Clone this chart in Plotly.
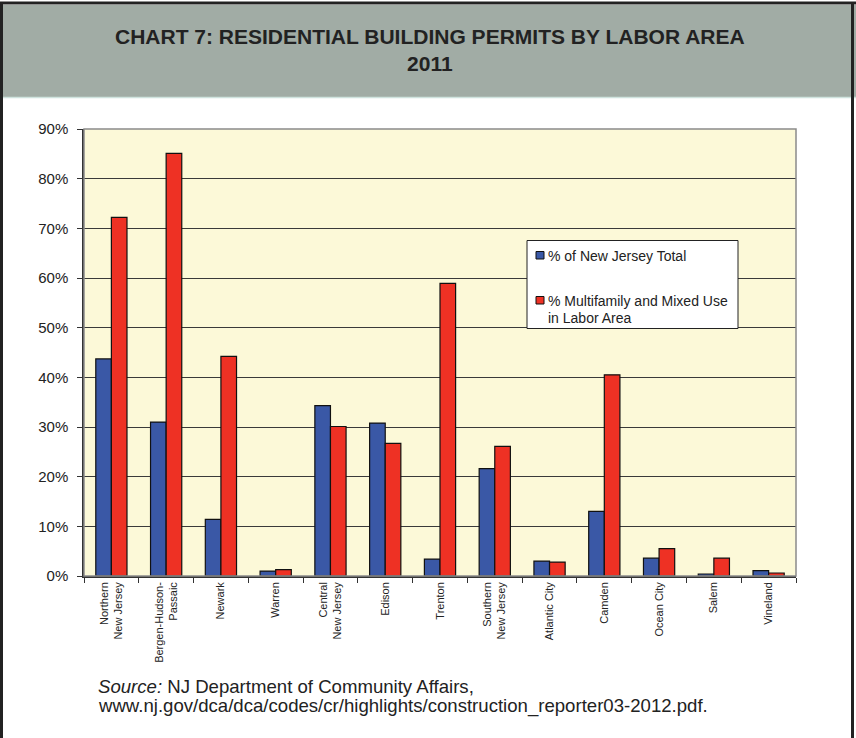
import plotly.graph_objects as go

categories = ["Northern<br>New Jersey", "Bergen-Hudson-<br>Passaic", "Newark", "Warren",
              "Central<br>New Jersey", "Edison", "Trenton", "Southern<br>New Jersey",
              "Atlantic City", "Camden", "Ocean City", "Salem", "Vineland"]
pct_nj_total = [43.7, 31.0, 11.4, 1.0, 34.3, 30.8, 3.4, 21.6, 3.0, 13.0, 3.6, 0.4, 1.1]
pct_multifamily = [72.2, 85.1, 44.2, 1.3, 30.1, 26.7, 58.9, 26.1, 2.8, 40.5, 5.5, 3.6, 0.6]
series_names = ["% of New Jersey Total", "% Multifamily and Mixed Use", "in Labor Area"]
series_colors = ["#3a58a6", "#ee3124"]
y_ticks = [0, 10, 20, 30, 40, 50, 60, 70, 80, 90]

W, H = 856, 738
L, R, T, B = 84, 796, 129, 576


def px(x):
    return (x - L) / (R - L)


def py(y):
    return (B - y) / (B - T)


fig = go.Figure()
fig.add_trace(go.Bar(x=categories, y=pct_nj_total, name=series_names[0],
                     marker=dict(color=series_colors[0], line=dict(color="#111", width=1.2))))
fig.add_trace(go.Bar(x=categories, y=pct_multifamily, name=series_names[1] + " " + series_names[2],
                     marker=dict(color=series_colors[1], line=dict(color="#111", width=1.2))))

shapes = [
    # title band
    dict(type="rect", xref="paper", yref="paper", x0=px(0), x1=px(W),
         y0=py(97), y1=py(5), fillcolor="#a1aca5", line=dict(width=0), layer="below"),
    dict(type="line", xref="paper", yref="paper", x0=px(0), x1=px(W),
         y0=py(97.5), y1=py(97.5), line=dict(color="#cfe3de", width=1.5)),
    # outer frame
    dict(type="line", xref="paper", yref="paper", x0=px(1.5), x1=px(1.5),
         y0=py(3), y1=py(740), line=dict(color="#222", width=3)),
    dict(type="line", xref="paper", yref="paper", x0=px(852.5), x1=px(852.5),
         y0=py(3), y1=py(740), line=dict(color="#222", width=3)),
    dict(type="line", xref="paper", yref="paper", x0=px(0), x1=px(W),
         y0=py(3), y1=py(3), line=dict(color="#222", width=3)),
    # plot area border
    dict(type="rect", xref="paper", yref="paper", x0=0, x1=1, y0=0, y1=1,
         line=dict(color="#8a8a8a", width=1.5), layer="above"),
    # legend box
    dict(type="rect", xref="paper", yref="paper", x0=px(527), x1=px(738), y0=py(328.5), y1=py(240.5),
         fillcolor="white", line=dict(color="#222", width=1), layer="above"),
    dict(type="rect", xref="paper", yref="paper", x0=px(536), x1=px(544), y0=py(259), y1=py(251.5),
         fillcolor=series_colors[0], line=dict(color="#111", width=1), layer="above"),
    dict(type="rect", xref="paper", yref="paper", x0=px(536), x1=px(544), y0=py(304), y1=py(296.5),
         fillcolor=series_colors[1], line=dict(color="#111", width=1), layer="above"),
]

legend_text = [(series_names[0], 256), (series_names[1], 300.5), (series_names[2], 317.5)]
annotations = [
    dict(text="<b>CHART 7: RESIDENTIAL BUILDING PERMITS BY LABOR AREA<br>2011</b>",
         xref="paper", yref="paper", x=px(430), y=py(50),
         xanchor="center", yanchor="middle", showarrow=False,
         font=dict(size=21, color="#222", family="Liberation Sans, Arial, sans-serif")),
    dict(text="<i>Source:</i> NJ Department of Community Affairs,",
         xref="paper", yref="paper", x=px(96), y=py(686),
         xanchor="left", yanchor="middle", align="left", showarrow=False,
         font=dict(size=18.6, color="#222", family="Liberation Sans, Arial, sans-serif")),
    dict(text="www.nj.gov/dca/dca/codes/cr/highlights/construction_reporter03-2012.pdf.",
         xref="paper", yref="paper", x=px(96), y=py(706),
         xanchor="left", yanchor="middle", align="left", showarrow=False,
         font=dict(size=18.6, color="#222", family="Liberation Sans, Arial, sans-serif")),
]
for txt, yy in legend_text:
    annotations.append(dict(text=txt, xref="paper", yref="paper", x=px(546), y=py(yy),
                            xanchor="left", yanchor="middle", showarrow=False,
                            font=dict(size=14, color="#222",
                                      family="Liberation Sans, Arial, sans-serif")))

fig.update_layout(
    width=W, height=H,
    margin=dict(l=L, r=W - R, t=T, b=H - B),
    paper_bgcolor="white", plot_bgcolor="#fcf9d8",
    barmode="group", bargap=0.43, bargroupgap=0,
    font=dict(family="Liberation Sans, Arial, sans-serif", color="#222"),
    showlegend=False,
    shapes=shapes,
    annotations=annotations,
)
fig.update_xaxes(tickangle=-90, tickfont=dict(size=11, color="#222"), ticks="outside",
                 tickson="boundaries", ticklen=5, tickcolor="#333",
                 showline=True, linecolor="#333", linewidth=1.5, showgrid=False)
fig.update_yaxes(range=[0, 90], tickvals=y_ticks, ticktext=[f"{v}%" for v in y_ticks],
                 tickfont=dict(size=15, color="#222"), ticks="outside", ticklen=5,
                 ticklabelstandoff=6,
                 tickcolor="#333", showline=True, linecolor="#333", linewidth=1.5,
                 showgrid=True, gridcolor="#3a3a3a", gridwidth=1, zeroline=False)

fig.write_html("out.html", config={"displayModeBar": False},
               post_script="document.body.style.margin='0';document.body.style.overflow='hidden';")
